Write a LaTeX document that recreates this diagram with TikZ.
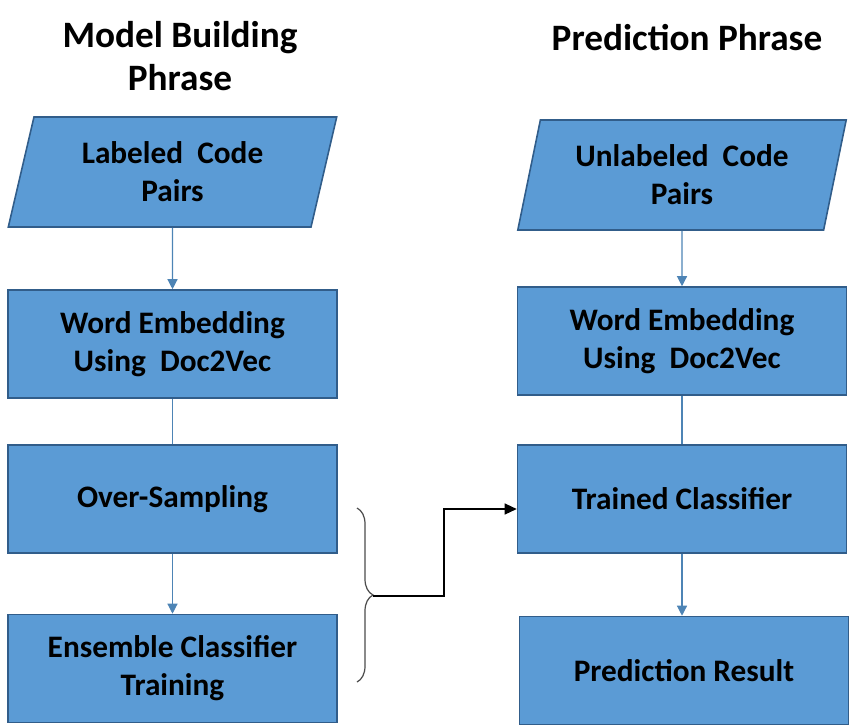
\documentclass[tikz,border=0pt]{standalone}
\usepackage{fontspec}
\setmainfont{Carlito}
\definecolor{boxblue}{RGB}{91,155,213}
\definecolor{edgeblue}{RGB}{49,93,138}
\usetikzlibrary{arrows.meta, positioning, calc, decorations.pathreplacing, shapes.geometric}

\begin{document}
\begin{tikzpicture}[
    box/.style={draw=edgeblue, fill=boxblue, line width=0.9pt, minimum width=6.58cm, minimum height=2.16cm, align=center, font=\bfseries\fontsize{17.8}{21.6}\selectfont},
    databox/.style={box, trapezium, trapezium left angle=76, trapezium right angle=104, trapezium stretches=true, minimum height=2.2cm},
    arrow/.style={-{Triangle[length=2mm, width=2mm]}, boxblue!85!black, line width=0.7pt},
    link/.style={boxblue!85!black, line width=0.7pt},
    title/.style={font=\bfseries\fontsize{21.2}{24.5}\selectfont, align=center}
]
\useasboundingbox (0,0) rectangle (17.32,-14.54);

% --- Model building phase ---
\node[title] (mb_title) at (3.6, -1.12) {Model Building\\Phrase};
\node[databox] (mb_in) at (3.45, -3.44) {Labeled~~Code\\Pairs};
\node[box] (mb_emb) at (3.45, -6.88) {Word Embedding\\Using~~Doc2Vec};
\node[box] (mb_os) at (3.45, -9.98) {Over-Sampling};
\node[box] (mb_ens) at (3.45, -13.37) {Ensemble Classifier\\Training};
\draw[arrow] (mb_in) -- (mb_emb);
\draw[link] (mb_emb) -- (mb_os);
\draw[arrow] (mb_os) -- (mb_ens);

% --- Prediction phase ---
\node[title] (pr_title) at (13.74, -0.76) {Prediction Phrase};
\node[databox] (pr_in) at (13.64, -3.5) {Unlabeled~~Code\\Pairs};
\node[box] (pr_emb) at (13.64, -6.82) {Word Embedding\\Using~~Doc2Vec};
\node[box] (pr_clf) at (13.64, -9.98) {Trained Classifier};
\node[box] (pr_res) at (13.68, -13.41) {Prediction Result};
\draw[arrow] (pr_in) -- (pr_emb);
\draw[link] (pr_emb) -- (pr_clf);
\draw[arrow] (pr_clf) -- (pr_clf |- pr_res.north);

% --- Brace into trained classifier ---
\draw[decorate, decoration={brace, amplitude=0.32cm}, black!70, line width=0.7pt] (7.14, -10.16) -- (7.14, -13.64);
\coordinate (brace_tip) at (7.46, -11.92);
\coordinate (bend) at (8.88, -10.18);
\draw[-{Triangle[length=2.4mm, width=2.2mm]}, line width=0.7pt] (brace_tip) -| (bend) -- (bend -| pr_clf.west);

\end{tikzpicture}
\end{document}
